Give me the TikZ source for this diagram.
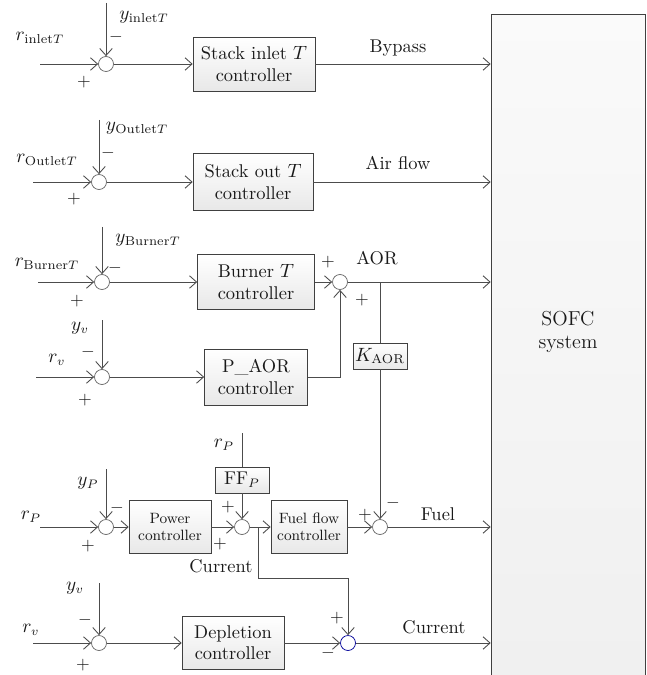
\documentclass[tikz,border=0pt]{standalone}
\usepackage{amsmath,amssymb}
\usepackage{tikz}
\usetikzlibrary{arrows.meta}

\begin{document}
\begin{tikzpicture}[
    x=0.02cm, y=-0.02cm,
    every node/.style={font=\fontsize{10.5}{12}\selectfont, text=black!90},
    sumpt/.style={circle, draw=black!60, fill=white, inner sep=0pt, minimum size=3.0mm},
    ctrl/.style={draw=black!75, top color=white, bottom color=black!9, align=center, inner sep=1pt, minimum height=1.08cm},
    smallctrl/.style={ctrl, font=\fontsize{8.5}{10}\selectfont, minimum height=1.06cm},
    gainbox/.style={draw=black!75, top color=white, bottom color=black!9, inner sep=1pt, minimum height=0.52cm},
    sgn/.style={inner sep=0pt, font=\fontsize{10}{10}\selectfont},
    arr/.style={-{Straight Barb[length=1.4mm, width=2.5mm]}, draw=black!70, line width=0.5pt},
    ln/.style={draw=black!70, line width=0.5pt}
]
\useasboundingbox (0,0) rectangle (646,675);

% Right: the plant
\node[draw=black!75, top color=black!2, bottom color=black!6, minimum width=3.08cm, minimum height=13.6cm, inner sep=0pt] (sofc) at (568,354) {};
\node[align=center, font=\fontsize{11.5}{13.5}\selectfont] (sofctxt) at (568,332) {SOFC\\system};

% Row 1: stack inlet temperature
\coordinate (rinA) at (40,64);
\coordinate (yinA) at (106,3);
\node[sumpt] (sumA) at (106,64) {};
\node[ctrl, minimum width=2.44cm] (ctrlA) at (254,64) {Stack inlet $T$\\controller};
\node (labrA) at (40,38) {$r_{\text{inlet}T}$};
\node (labyA) at (144,17) {$y_{\text{inlet}T}$};
\node[sgn] (mA) at (116,37) {$-$};
\node[sgn] (pA) at (84,82) {$+$};
\node (labA) at (398,48) {Bypass};
\draw[arr] (rinA) -- (sumA);
\draw[arr] (yinA) -- (sumA);
\draw[arr] (sumA) -- (ctrlA);
\draw[arr] (ctrlA) -- (sofc.west |- ctrlA.east);

% Row 2: stack outlet temperature
\coordinate (rinB) at (33,182);
\coordinate (yinB) at (99,120);
\node[sumpt] (sumB) at (99,182) {};
\node[ctrl, minimum width=2.40cm, minimum height=1.14cm] (ctrlB) at (253,182) {Stack out $T$\\controller};
\node (labrB) at (47,160) {$r_{\text{Outlet}T}$};
\node (labyB) at (137,128) {$y_{\text{Outlet}T}$};
\node[sgn] (mB) at (108,153) {$-$};
\node[sgn] (pB) at (74,199) {$+$};
\node (labB) at (398,163) {Air flow};
\draw[arr] (rinB) -- (sumB);
\draw[arr] (yinB) -- (sumB);
\draw[arr] (sumB) -- (ctrlB);
\draw[arr] (ctrlB) -- (sofc.west |- ctrlB.east);

% Row 3: burner temperature and AOR
\coordinate (rinC) at (38,282);
\coordinate (yinC) at (102,227);
\node[sumpt] (sumC) at (102,282) {};
\node[ctrl, minimum width=2.34cm, minimum height=1.10cm] (ctrlC) at (256,282) {Burner $T$\\controller};
\node (labrC) at (47,264) {$r_{\text{Burner}T}$};
\node (labyC) at (148,240) {$y_{\text{Burner}T}$};
\node[sgn] (mC) at (115,268) {$-$};
\node[sgn] (pC) at (77,301) {$+$};
\node[sumpt] (sumAOR) at (340,282) {};
\node[sgn] (pAOR1) at (328,262) {$+$};
\node[sgn] (pAOR2) at (362,300) {$+$};
\node (labAOR) at (377,258) {AOR};
\coordinate (jAOR) at (380,282);
\node[gainbox, minimum width=1.08cm] (kaor) at (380,356) {$K_{\text{AOR}}$};
\draw[arr] (rinC) -- (sumC);
\draw[arr] (yinC) -- (sumC);
\draw[arr] (sumC) -- (ctrlC);
\draw[arr] (ctrlC) -- (sumAOR);
\draw[arr] (sumAOR) -- (sofc.west |- sumAOR);
\draw[ln] (jAOR) -- (kaor);

% Row 4: P_AOR
\coordinate (rinD) at (36,377);
\coordinate (yinD) at (102,320);
\node[sumpt] (sumD) at (102,377) {};
\node[ctrl, minimum width=2.06cm, minimum height=1.12cm] (ctrlD) at (256,377) {P\_AOR\\controller};
\node (labrD) at (57,360) {$r_v$};
\node (labyD) at (80,328) {$y_v$};
\node[sgn] (mD) at (88,352) {$-$};
\node[sgn] (pD) at (85,400) {$+$};
\draw[arr] (rinD) -- (sumD);
\draw[arr] (yinD) -- (sumD);
\draw[arr] (sumD) -- (ctrlD);
\draw[arr] (ctrlD.east) -| (sumAOR);

% Row 5: power and fuel
\coordinate (rinF) at (40,527);
\coordinate (yinF) at (106,469);
\node[sumpt] (sumP) at (106,527) {};
\node[smallctrl, minimum width=1.64cm] (pwr) at (170,527) {Power\\controller};
\node[sumpt] (sumFF) at (242,527) {};
\node[gainbox, minimum width=1.08cm] (ffp) at (242,480) {FF$_P$};
\coordinate (rP) at (242,433);
\coordinate (jCur) at (258,527);
\node[smallctrl, minimum width=1.52cm] (ffc) at (309,527) {Fuel flow\\controller};
\node[sumpt] (sumFuel) at (380,527) {};
\node (labrF) at (31,517) {$r_P$};
\node (labyF) at (88,483) {$y_P$};
\node (labrP) at (224,445) {$r_P$};
\node[sgn] (mF) at (117,508) {$-$};
\node[sgn] (pF) at (88,546) {$+$};
\node[sgn] (pFF1) at (228,507) {$+$};
\node[sgn] (pFF2) at (220,544) {$+$};
\node[sgn] (pFu) at (365,515) {$+$};
\node[sgn] (mFu) at (393,503) {$-$};
\node (labCurA) at (221,566) {Current};
\node (labF) at (438,514) {Fuel};
\draw[arr] (rinF) -- (sumP);
\draw[arr] (yinF) -- (sumP);
\draw[arr] (sumP) -- (pwr);
\draw[arr] (pwr) -- (sumFF);
\draw[ln] (rP) -- (ffp);
\draw[arr] (ffp) -- (sumFF);
\draw[arr] (sumFF) -- (ffc);
\draw[arr] (ffc) -- (sumFuel);
\draw[arr] (kaor) -- (sumFuel);
\draw[arr] (sumFuel) -- (sofc.west |- sumFuel);

% Row 6: depletion and current
\coordinate (rinG) at (33,643);
\coordinate (yinG) at (99,583);
\node[sumpt] (sumG) at (99,643) {};
\node[ctrl, minimum width=2.04cm, minimum height=1.06cm] (depl) at (233,643) {Depletion\\controller};
\node[sumpt, draw=blue!60!black] (sumCur) at (348,643) {};
\coordinate (curBend) at (258,578);
\node (labrG) at (31,630) {$r_v$};
\node (labyG) at (75,588) {$y_v$};
\node[sgn] (mG) at (85,620) {$-$};
\node[sgn] (pG) at (83,665) {$+$};
\node[sgn] (pCur) at (337,618) {$+$};
\node[sgn] (mCur) at (328,653) {$-$};
\node (labCurB) at (434,627) {Current};
\draw[arr] (rinG) -- (sumG);
\draw[arr] (yinG) -- (sumG);
\draw[arr] (sumG) -- (depl);
\draw[arr] (depl) -- (sumCur);
\draw[arr] (jCur) -- (curBend) -| (sumCur);
\draw[arr] (sumCur) -- (sofc.west |- sumCur);

\end{tikzpicture}
\end{document}
